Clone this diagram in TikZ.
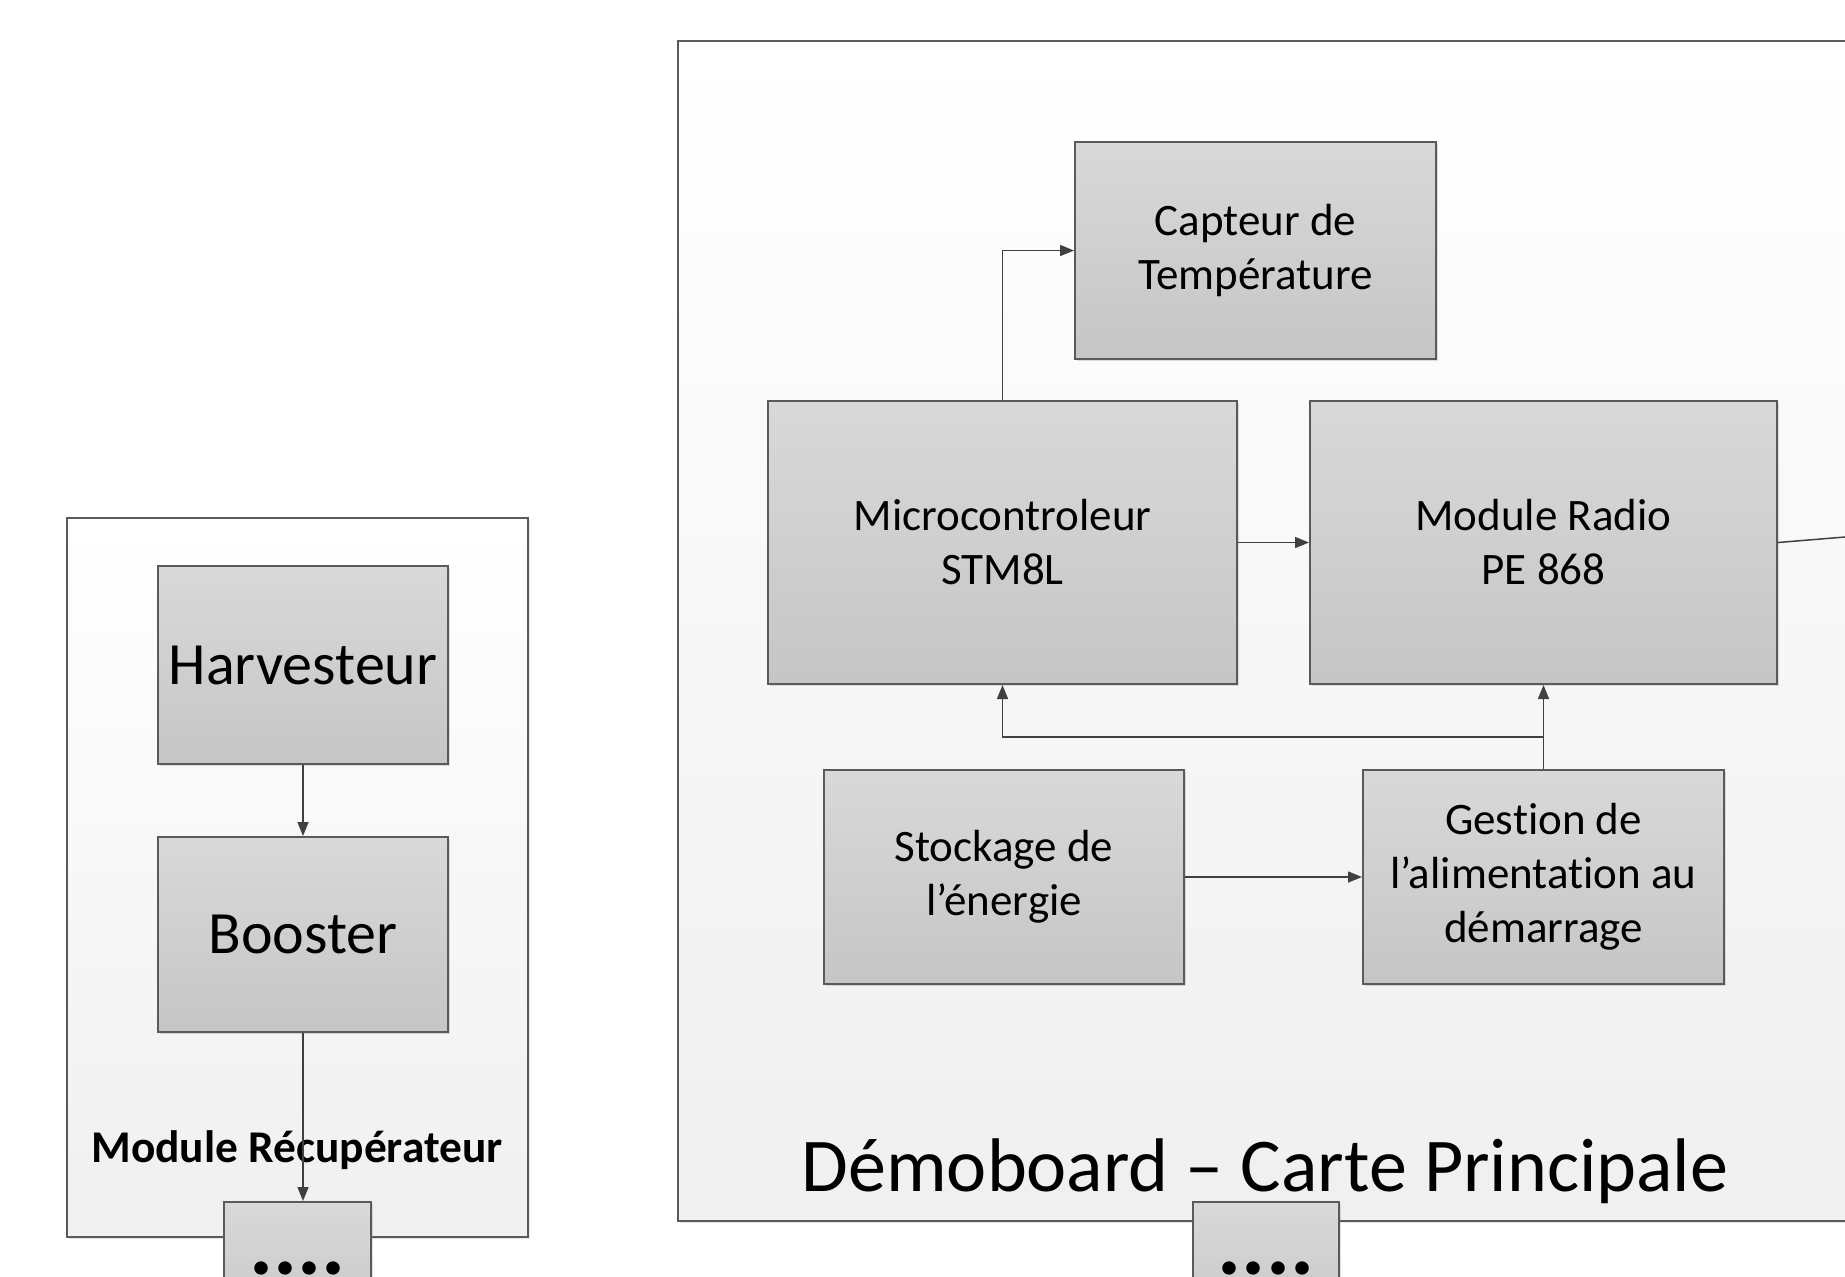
\documentclass[tikz,border=0pt]{standalone}
\usepackage{fontspec}
\setmainfont{Carlito}[Ligatures=NoCommon]
\usetikzlibrary{arrows.meta,shadows}
\tikzset{>={Triangle[length=7pt,width=5.5pt]}}
\definecolor{trait}{HTML}{5A5A5A}
\definecolor{fonce}{HTML}{404040}
\tikzstyle{cadre} = [draw=trait, line width=0.8pt, top color=white, bottom color=black!6, inner sep=0pt, drop shadow={shadow xshift=1pt, shadow yshift=-1pt, opacity=0.2}]
\tikzstyle{bloc} = [draw=trait, line width=1pt, top color=gray!30, bottom color=gray!45, align=center, inner sep=0pt, font=\fontsize{22.5}{27}\selectfont, drop shadow={shadow xshift=1pt, shadow yshift=-1pt, opacity=0.25}]
\tikzstyle{fleche} = [fonce, line width=0.75pt, ->]

\begin{document}
\begin{tikzpicture}[x=0.5pt,y=-0.5pt]
\path[use as bounding box, clip] (0,0) rectangle (1845,1276);
% les deux cartes
\node[cadre, minimum width=230.5pt, minimum height=359.5pt] (recup) at (297.5,877.5) {};
\node[cadre, minimum width=611pt, minimum height=590pt] (demo) at (1289,631) {};
\node[anchor=base, font=\fontsize{22.7}{27}\selectfont\bfseries] (nomrecup) at (297,1162) {Module Récupérateur};
\node[anchor=base, font=\fontsize{38}{45}\selectfont] (nomdemo) at (1265,1191) {Démoboard – Carte Principale};

% module recuperateur
\node[bloc, font=\fontsize{30}{36}\selectfont, minimum width=145pt, minimum height=99pt] (harv) at (303,665) {Harvesteur};
\node[bloc, font=\fontsize{30}{36}\selectfont, minimum width=145pt, minimum height=97.5pt] (boost) at (303,934.5) {Booster};
\node[bloc, font=\fontsize{45}{45}\selectfont\bfseries, minimum width=73.5pt, minimum height=66pt] (pts1) at (297.5,1268) {....};

% carte principale
\node[bloc, minimum width=180.5pt, minimum height=108.5pt] (capteur) at (1255.5,250.5) {Capteur de\\Température};
\node[bloc, minimum width=234.5pt, minimum height=141.5pt] (micro) at (1002.5,542.5) {Microcontroleur\\STM8L};
\node[bloc, minimum width=233.5pt, minimum height=141.5pt] (radio) at (1543.5,542.5) {Module Radio\\PE 868};
\node[bloc, minimum width=180pt, minimum height=107pt] (stock) at (1004,877) {Stockage de\\l’énergie};
\node[bloc, minimum width=180.5pt, minimum height=107pt] (gestion) at (1543.5,877) {Gestion de\\l’alimentation au\\démarrage};
\node[bloc, font=\fontsize{45}{45}\selectfont\bfseries, minimum width=73pt, minimum height=66pt] (pts2) at (1266,1268) {....};

\coordinate (jonction) at (1543.5,737);
\coordinate (sortie) at (1845,537);

% liaisons
\draw[fleche] (harv) -- (boost);
\draw[fleche] (boost.south) -- (boost.south |- pts1.north);
\draw[fleche] (micro.north) |- (capteur.west);
\draw[fleche] (micro) -- (radio);
\draw[fleche] (stock) -- (gestion);
\draw[fleche] (gestion.north) -- (radio.south);
\draw[fleche] (jonction) -| (micro.south);
\draw[fonce, line width=0.75pt] (radio.east) -- (sortie);
\end{tikzpicture}
\end{document}
